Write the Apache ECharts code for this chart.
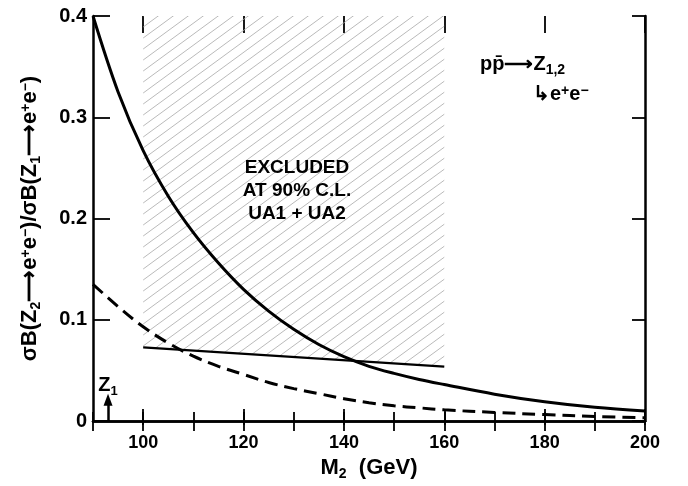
<!DOCTYPE html>
<html>
<head>
<meta charset="utf-8">
<script src="https://cdn.jsdelivr.net/npm/echarts@6/dist/echarts.min.js"></script>
<style>html,body{margin:0;padding:0;background:#fff}#c{width:688px;height:486px}</style>
</head>
<body>
<div id="c"></div>
<script>
// ---- data ----
const m2 = [90, 95, 100, 105, 110, 115, 120, 125, 130, 135, 140, 145, 150, 155, 160, 170, 180, 190, 200];
const solidRatio = [0.400, 0.325, 0.267, 0.222, 0.186, 0.156, 0.130, 0.1085, 0.0905, 0.0755, 0.0635, 0.054, 0.047, 0.041, 0.036, 0.0265, 0.019, 0.0135, 0.0098];
const dashedRatio = [0.135, 0.113, 0.093, 0.077, 0.064, 0.054, 0.046, 0.038, 0.032, 0.027, 0.022, 0.018, 0.015, 0.013, 0.011, 0.0085, 0.0063, 0.0045, 0.0032];
const limitM = [100, 160];
const limitRatio = [0.0727, 0.0538];
const xMin = 90, xMax = 200;
const xMajorStart = 100, xMajorStep = 20, xMinorStep = 10;
const yMin = 0, yMax = 0.4, yStep = 0.1;
const z1Mass = 93;
const z1ArrowTop = 0.021;
const excludedText = ['EXCLUDED', 'AT 90% C.L.', 'UA1 + UA2'];

const FONT = 'Liberation Sans';
const WEIGHT = 'bold';
const zip = (xs, ys) => xs.map((x, i) => [x, ys[i]]);

// layout
const W = 688, H = 486;
const G = { left: 93, right: 43, top: 16, bottom: 61 };
const pxPerUnit = (W - G.left - G.right) / (xMax - xMin);
const G2 = { left: G.left + (xMajorStart - xMin) * pxPerUnit, right: G.right, top: G.top, bottom: G.bottom };

function hatchPattern() {
  const c = document.createElement('canvas');
  const w = 15, h = 11;
  c.width = w; c.height = h;
  const g = c.getContext('2d');
  g.strokeStyle = '#a8a8a8';
  g.lineWidth = 0.8;
  for (const dx of [-w, 0, w]) {
    g.beginPath();
    g.moveTo(dx - 1.5, h + 1.1);
    g.lineTo(dx + w + 1.5, -1.1);
    g.stroke();
  }
  return { image: c, repeat: 'repeat' };
}

const chart = echarts.init(document.getElementById('c'), null, { renderer: 'canvas' });

const rich = (big, small, pad) => ({
  n: { fontFamily: FONT, fontWeight: WEIGHT, fontSize: big, color: '#000', verticalAlign: 'top', lineHeight: big + 2 },
  s: { fontFamily: FONT, fontWeight: WEIGHT, fontSize: small, color: '#000', padding: [pad, 0, 0, 0], verticalAlign: 'top', lineHeight: small },
  p: { fontFamily: FONT, fontWeight: WEIGHT, fontSize: small, color: '#000', padding: [0, 0, 0, 0], verticalAlign: 'top', lineHeight: small }
});

const axisLineStyle = { color: '#000', width: 2.5 };
const tickLine = { color: '#000', width: 1.8 };

const option = {
  animation: false,
  backgroundColor: '#fff',
  grid: [
    { left: G.left, right: G.right, top: G.top, bottom: G.bottom, containLabel: false },
    { left: G2.left, right: G2.right, top: G2.top, bottom: G2.bottom, containLabel: false }
  ],
  xAxis: [
    { // data axis + minor ticks (bottom)
      gridIndex: 0, type: 'value', min: xMin, max: xMax, interval: xMinorStep, position: 'bottom',
      axisLine: { show: true, lineStyle: axisLineStyle },
      axisTick: { show: true, inside: true, length: 9, lineStyle: tickLine },
      axisLabel: { show: false }, splitLine: { show: false },
      name: '{n|M}{s|2}{n|  (GeV)}', nameLocation: 'middle', nameGap: 36,
      nameTextStyle: { rich: rich(22, 14, 10) }
    },
    { // minor ticks (top)
      gridIndex: 0, type: 'value', min: xMin, max: xMax, interval: xMinorStep, position: 'top',
      axisLine: { show: true, lineStyle: axisLineStyle },
      axisTick: { show: true, inside: true, length: 10, lineStyle: tickLine },
      axisLabel: { show: false }, splitLine: { show: false }
    },
    { // major ticks + labels (bottom)
      gridIndex: 1, type: 'value', min: xMajorStart, max: xMax, interval: xMajorStep, position: 'bottom',
      axisLine: { show: false },
      axisTick: { show: true, inside: true, length: 16, lineStyle: tickLine },
      axisLabel: { show: true, margin: 9, color: '#000', fontFamily: FONT, fontWeight: WEIGHT, fontSize: 18 },
      splitLine: { show: false }
    },
    { // major ticks (top)
      gridIndex: 1, type: 'value', min: xMajorStart, max: xMax, interval: xMajorStep, position: 'top',
      axisLine: { show: false },
      axisTick: { show: true, inside: true, length: 17, lineStyle: tickLine },
      axisLabel: { show: false }, splitLine: { show: false }
    }
  ],
  yAxis: [
    {
      gridIndex: 0, type: 'value', min: yMin, max: yMax, interval: yStep, position: 'left',
      axisLine: { show: true, lineStyle: axisLineStyle },
      axisTick: { show: true, inside: true, length: 17, lineStyle: tickLine },
      axisLabel: { show: true, margin: 6, color: '#000', fontFamily: FONT, fontWeight: WEIGHT, fontSize: 20,
        formatter: v => (v === 0 ? '0' : v.toFixed(1)) },
      splitLine: { show: false },
      name: '{n|σB(Z}{s|2}{n|⟶e}{p|+}{n|e}{p|−}{n|)/σB(Z}{s|1}{n|⟶e}{p|+}{n|e}{p|−}{n|)}',
      nameLocation: 'middle', nameGap: 50,
      nameTextStyle: { rich: rich(22, 14, 10) }
    },
    {
      gridIndex: 0, type: 'value', min: yMin, max: yMax, interval: yStep, position: 'right',
      axisLine: { show: true, lineStyle: axisLineStyle },
      axisTick: { show: true, inside: true, length: 13, lineStyle: tickLine },
      axisLabel: { show: false }, splitLine: { show: false }
    },
    {
      gridIndex: 1, type: 'value', min: yMin, max: yMax, show: false
    }
  ],
  series: [
    {
      name: 'excluded', type: 'line', xAxisIndex: 0, yAxisIndex: 0,
      data: zip(limitM, limitRatio), symbol: 'none',
      lineStyle: { color: '#000', width: 2.3 },
      areaStyle: { origin: 'end', color: hatchPattern(), opacity: 1 },
      z: 2
    },
    {
      name: 'solid', type: 'line', xAxisIndex: 0, yAxisIndex: 0,
      data: zip(m2, solidRatio), symbol: 'none', smooth: 0.35,
      lineStyle: { color: '#000', width: 3 }, z: 3
    },
    {
      name: 'dashed', type: 'line', xAxisIndex: 0, yAxisIndex: 0,
      data: zip(m2, dashedRatio), symbol: 'none', smooth: 0.35,
      lineStyle: { color: '#000', width: 3, type: [13, 7] }, z: 3,
      markLine: {
        silent: true, animation: false,
        symbol: ['none', 'triangle'], symbolSize: [9, 12],
        lineStyle: { color: '#000', width: 2.5, type: 'solid' },
        label: {
          show: true, position: 'end', distance: 2,
          formatter: '{n|Z}{s|1}',
          rich: rich(20, 13, 9)
        },
        data: [[{ coord: [z1Mass, 0] }, { coord: [z1Mass, z1ArrowTop] }]]
      }
    }
  ],
  graphic: [
    {
      type: 'text', x: 297, y: 156,
      style: {
        text: excludedText.join('\n'), fontFamily: FONT, fontWeight: WEIGHT, fontSize: 19, lineHeight: 23,
        fill: '#000', align: 'center'
      },
      z: 10
    },
    {
      type: 'text', left: 480, top: 54,
      style: { text: '{n|pp̄⟶Z}{s|1,2}', rich: rich(20, 14, 9), fill: '#000' }
    },
    {
      type: 'text', left: 533, top: 84,
      style: { text: '{n|↳e}{p|+}{n|e}{p|−}', rich: rich(20, 14, 0), fill: '#000' }
    }
  ]
};
chart.setOption(option);
</script>
</body>
</html>
